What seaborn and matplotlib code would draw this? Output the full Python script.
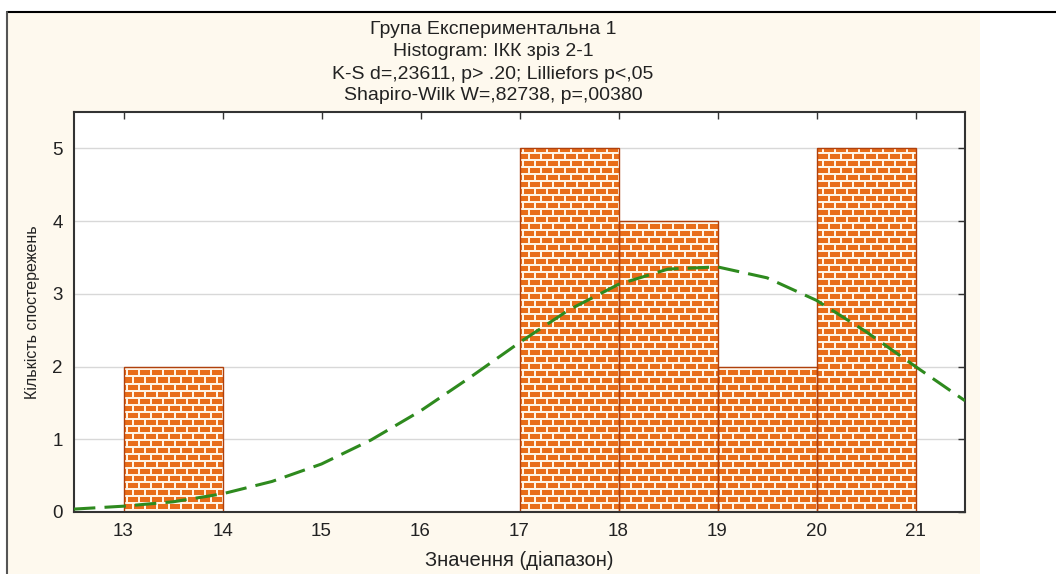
import numpy as np
import matplotlib.pyplot as plt
import seaborn as sns
from matplotlib.patches import Rectangle
from matplotlib.lines import Line2D

# --- data ---
bin_edges = [13, 14, 15, 16, 17, 18, 19, 20, 21]
bin_mids = [13.5, 14.5, 15.5, 16.5, 17.5, 18.5, 19.5, 20.5]
counts = [2, 0, 0, 0, 5, 4, 2, 5]

# expected-normal curve, every 0.5
curve_x = [12.5, 13.0, 13.5, 14.0, 14.5, 15.0, 15.5, 16.0, 16.5, 17.0,
           17.5, 18.0, 18.5, 19.0, 19.5, 20.0, 20.5, 21.0, 21.5]
curve_y = [0.04, 0.08, 0.14, 0.25, 0.42, 0.66, 0.99, 1.39, 1.85, 2.33,
           2.78, 3.13, 3.34, 3.37, 3.22, 2.91, 2.48, 2.00, 1.53]

x_ticks = [13, 14, 15, 16, 17, 18, 19, 20, 21]
y_ticks = [0, 1, 2, 3, 4, 5]

title_lines = [
    "Група Експериментальна 1",
    "Histogram: ІКК зріз 2-1",
    "K-S d=,23611, p> .20; Lilliefors p<,05",
    "Shapiro-Wilk W=,82738, p=,00380",
]
x_label = "Значення (діапазон)"
y_label = "Кількість спостережень"

W, H = 1056, 574
ORANGE = (0.91, 0.43, 0.10)
MORTAR = (1.0, 0.96, 0.90)
EDGE = "#B0400C"
GREEN = "#2E8A1E"

sns.set_theme(style="white")
plt.rcParams['font.family'] = ['Liberation Sans', 'DejaVu Sans']

fig = plt.figure(figsize=(W / 100, H / 100), dpi=100)
fig.patch.set_facecolor("white")

# cream STATISTICA-like panel + frame lines
fig.add_artist(Rectangle((7 / W, 0), (980 - 7) / W, (H - 12) / H,
                         transform=fig.transFigure, facecolor="#FEF9EE",
                         edgecolor="none", zorder=0))
fig.add_artist(Line2D([7 / W, 1], [1 - 12 / H, 1 - 12 / H],
                      transform=fig.transFigure, color="black", lw=1.5))
fig.add_artist(Line2D([7 / W, 7 / W], [0, 1 - 12 / H],
                      transform=fig.transFigure, color="#555555", lw=1.5))

ax = fig.add_axes([74 / W, 1 - 512 / H, (965 - 74) / W, (512 - 112) / H])
ax.set_facecolor("white")

sns.histplot(x=bin_mids, weights=counts, bins=bin_edges, ax=ax,
             stat="count", alpha=1, linewidth=1.0)

# brick texture, one pixel per texel over the axes area
tex_h, tex_w = 400, 891
rr, cc = np.indices((tex_h, tex_w))
row = rr // 7
brick = ((rr % 7) < 5) & (((cc + (row % 2) * 6) % 12) < 10)
tex = np.empty((tex_h, tex_w, 3))
tex[:] = MORTAR
tex[brick] = ORANGE

xlim = (12.5, 21.5)
ylim = (0, 5.5)
for p in ax.patches:
    if p.get_height() <= 0:
        p.set_visible(False)
        continue
    p.set_facecolor("none")
    p.set_edgecolor(EDGE)
    p.set_linewidth(1.0)
    p.set_zorder(2)
    im = ax.imshow(tex, extent=[*xlim, *ylim], aspect="auto",
                   interpolation="nearest", zorder=1.5)
    im.set_clip_path(p)

sns.lineplot(x=curve_x, y=curve_y, ax=ax, color=GREEN, lw=2.2,
             linestyle=(0, (7, 3)), zorder=3)

ax.set_xlim(*xlim)
ax.set_ylim(*ylim)
ax.set_xticks(x_ticks)
ax.set_yticks(y_ticks)
ax.set_axisbelow(True)
ax.yaxis.grid(True, color="#d8d8d8", lw=1)
ax.xaxis.grid(False)

for s in ax.spines.values():
    s.set_visible(True)
    s.set_color("#333333")
    s.set_linewidth(1.5)
ax.tick_params(direction="in", length=5, width=1, color="#333333",
               top=True, right=True, labelsize=13.5, labelcolor="#222222",
               pad=8)

ax.set_xlabel(x_label, fontsize=14.5, color="#222222", labelpad=8)
ax.set_ylabel(y_label, fontsize=11.5, color="#222222", labelpad=9)

for i, line in enumerate(title_lines):
    fig.text(493 / W, 1 - (30 + 22 * i) / H, line, ha="center", va="center",
             fontsize=14, color="#222222")

fig.savefig("out.png", dpi=100)
